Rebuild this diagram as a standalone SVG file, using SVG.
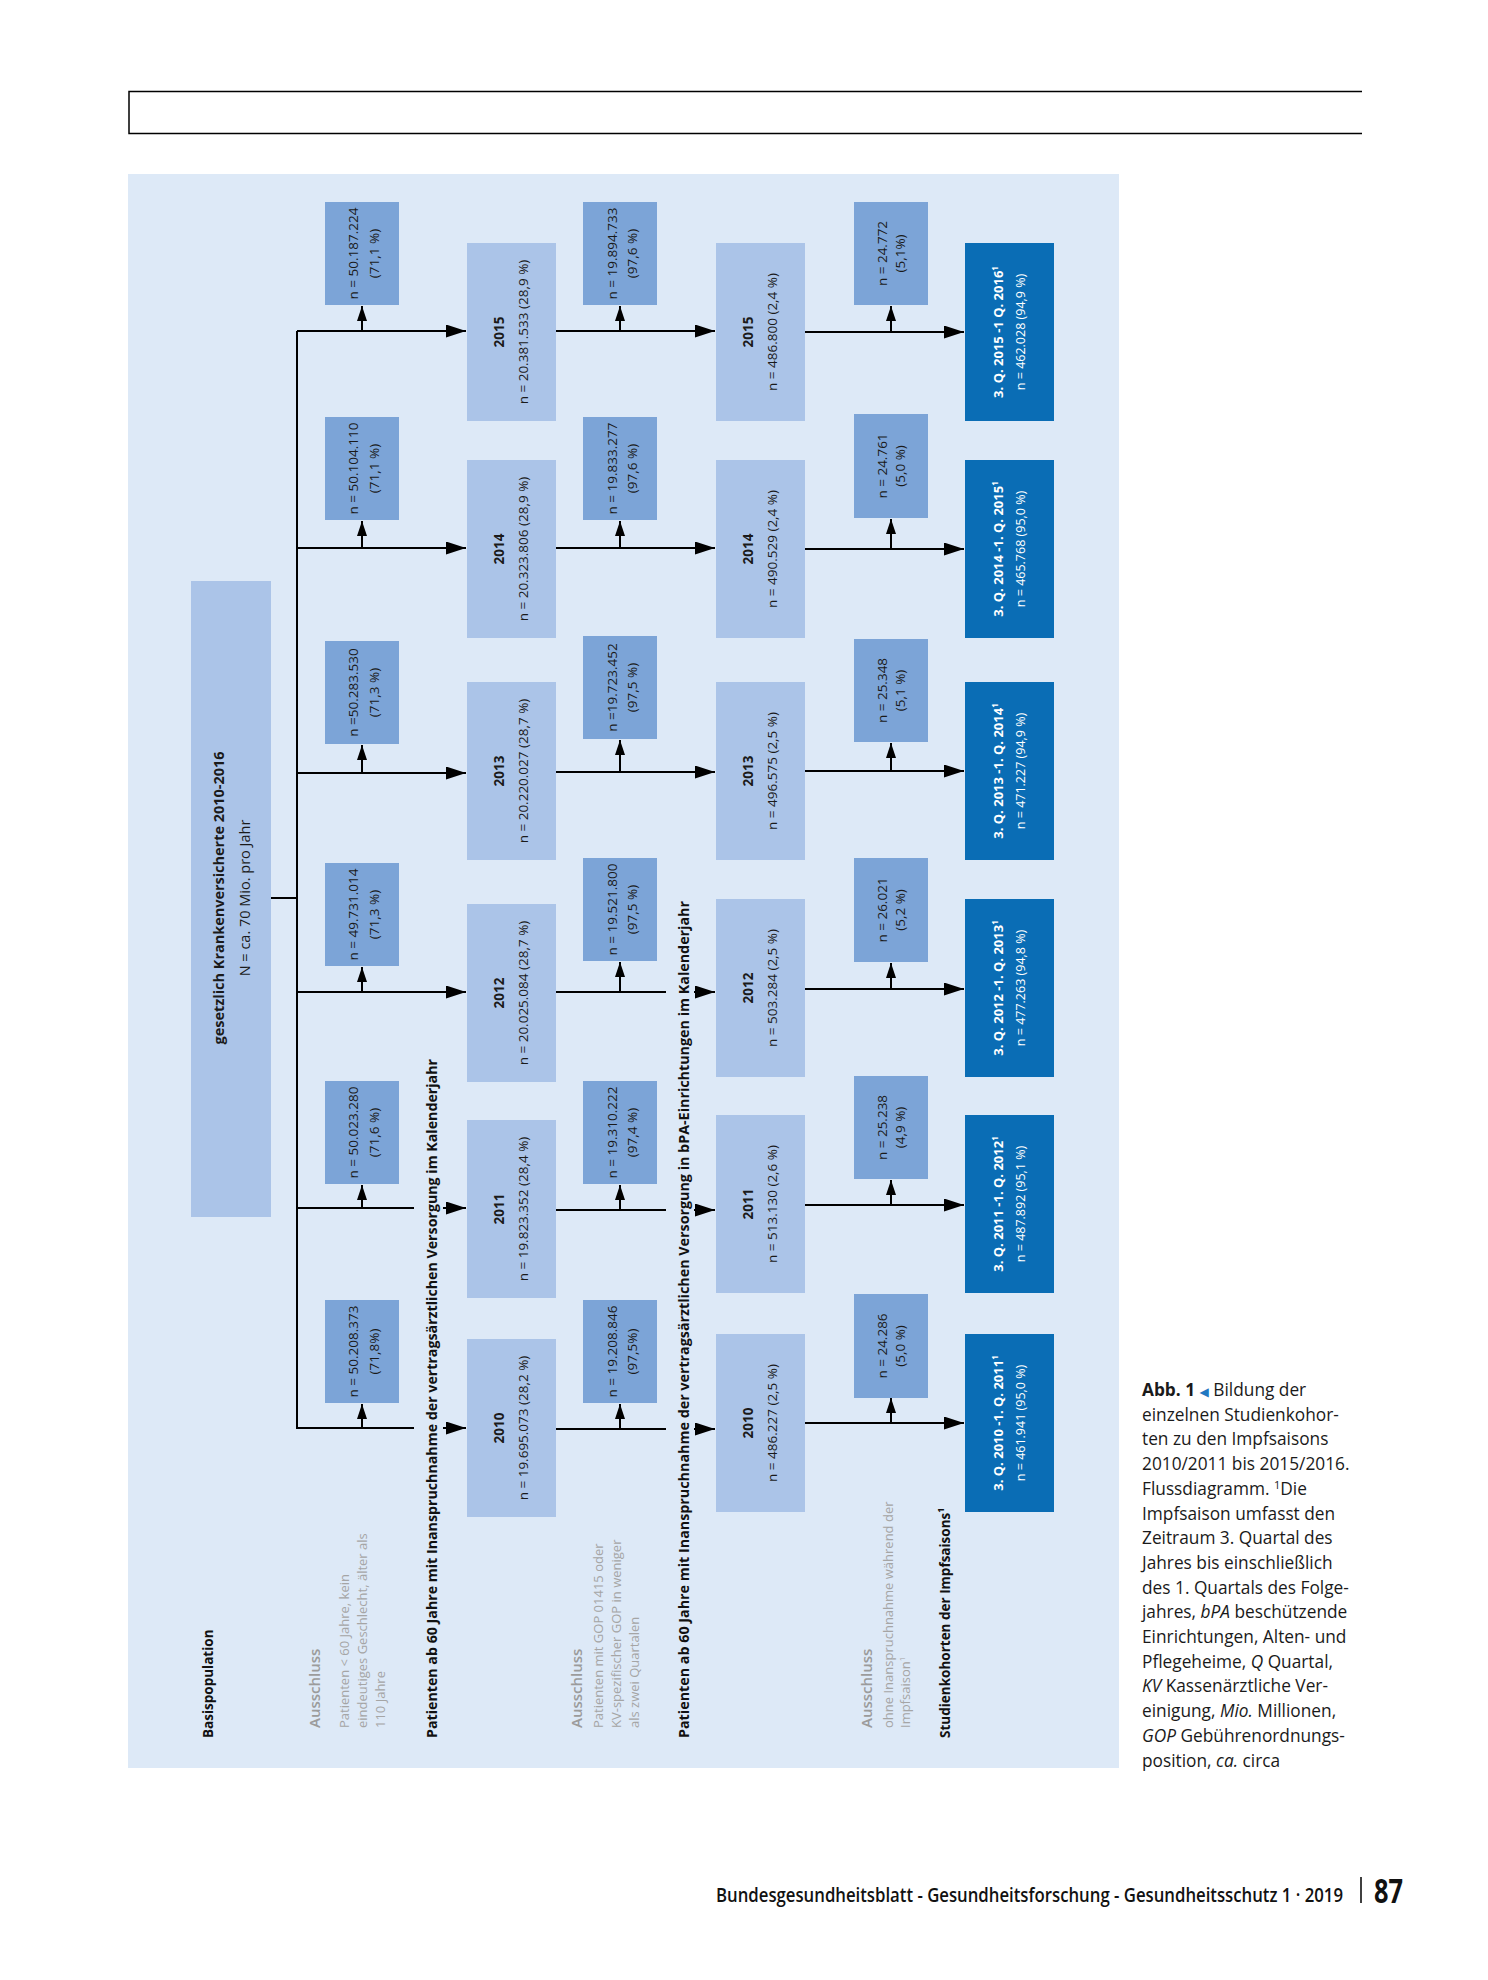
<svg xmlns="http://www.w3.org/2000/svg" width="1488" height="1980" viewBox="0 0 1488 1980">
<style>
text{font-family:"Open Sans","Liberation Sans",sans-serif}
.bg{fill:#dde9f7}
.st{fill:#abc4e8}
.ex{fill:#7ca4d7}
.fi{fill:#0a6db5}
.t{font-size:13.5px;fill:#1a1a1a;text-anchor:middle}
.tb{font-weight:700}
.fw{font-size:12.5px;fill:#ffffff;text-anchor:middle}
.fb{font-size:13px;font-weight:700;fill:#ffffff;text-anchor:middle}
.lbl{font-size:13.5px;font-weight:700;fill:#111111}
.aus{font-size:15px;font-weight:600;fill:#9b9b9b}
.desc{font-size:13px;fill:#a5a5a5}
.ln{stroke:#000;stroke-width:2;fill:none}
.cap{font-size:17.3px;fill:#1a1a1a}
</style>
<defs>
<marker id="ah" markerUnits="userSpaceOnUse" markerWidth="20" markerHeight="13" refX="20" refY="6.5" orient="auto"><path d="M0,0L20,6.5L0,13z" fill="#000"/></marker>
<marker id="au" markerUnits="userSpaceOnUse" markerWidth="15" markerHeight="10" refX="15" refY="5" orient="auto"><path d="M0,0L15,5L0,10z" fill="#000"/></marker>
</defs>

<rect width="1488" height="1980" fill="#ffffff"/>

<g id="header">
<path d="M1362,91.5H129V133.5H1362" fill="none" stroke="#000" stroke-width="1.5"/>
</g>

<rect id="panel" class="bg" x="128" y="174" width="991" height="1594"/>

<g id="row-labels">
<text class="lbl" transform="translate(213,1738) rotate(-90)">Basispopulation</text>
<text class="aus" transform="translate(320,1728) rotate(-90)">Ausschluss</text>
<text class="desc" transform="translate(349,1728) rotate(-90)">Patienten &lt; 60 Jahre, kein</text>
<text class="desc" transform="translate(367,1728) rotate(-90)">eindeutiges Geschlecht, älter als</text>
<text class="desc" transform="translate(385,1728) rotate(-90)">110 Jahre</text>
<text class="lbl" transform="translate(437,1738) rotate(-90)" textLength="679" lengthAdjust="spacingAndGlyphs">Patienten ab 60 Jahre mit Inanspruchnahme der vertragsärztlichen Versorgung im Kalenderjahr</text>
<text class="aus" transform="translate(582,1728) rotate(-90)">Ausschluss</text>
<text class="desc" transform="translate(603,1728) rotate(-90)">Patienten mit GOP 01415 oder</text>
<text class="desc" transform="translate(621,1728) rotate(-90)">KV-spezifischer GOP in weniger</text>
<text class="desc" transform="translate(639,1728) rotate(-90)">als  zwei Quartalen</text>
<text class="lbl" transform="translate(689,1738) rotate(-90)" textLength="837" lengthAdjust="spacingAndGlyphs">Patienten ab 60 Jahre mit Inanspruchnahme der vertragsärztlichen Versorgung in bPA-Einrichtungen im Kalenderjahr</text>
<text class="aus" transform="translate(872,1728) rotate(-90)">Ausschluss</text>
<text class="desc" transform="translate(893,1728) rotate(-90)">ohne Inanspruchnahme während der</text>
<text class="desc" transform="translate(910,1728) rotate(-90)">Impfsaison<tspan font-size="8" dy="-5">1</tspan></text>
<text class="lbl" transform="translate(950,1738) rotate(-90)">Studienkohorten der Impfsaisons<tspan font-size="9" dy="-6">1</tspan></text>
</g>

<g id="connectors">
<path class="ln" d="M271,898H297"/>
<path class="ln" d="M297,1428V331"/>
<path class="ln" d="M297,331H466" marker-end="url(#ah)"/>
<path class="ln" d="M297,548H466" marker-end="url(#ah)"/>
<path class="ln" d="M297,773H466" marker-end="url(#ah)"/>
<path class="ln" d="M297,992H466" marker-end="url(#ah)"/>
<path class="ln" d="M297,1208H414"/>
<path class="ln" d="M443,1208H466" marker-end="url(#ah)"/>
<path class="ln" d="M296,1428H414"/>
<path class="ln" d="M443,1428H466" marker-end="url(#ah)"/>
<path class="ln" d="M362,331V306" marker-end="url(#au)"/>
<path class="ln" d="M362,548V521" marker-end="url(#au)"/>
<path class="ln" d="M362,773V745" marker-end="url(#au)"/>
<path class="ln" d="M362,992V967" marker-end="url(#au)"/>
<path class="ln" d="M362,1208V1185" marker-end="url(#au)"/>
<path class="ln" d="M362,1428V1404" marker-end="url(#au)"/>

<path class="ln" d="M556,331H715" marker-end="url(#ah)"/>
<path class="ln" d="M556,548H715" marker-end="url(#ah)"/>
<path class="ln" d="M556,772H715" marker-end="url(#ah)"/>
<path class="ln" d="M556,992H666"/>
<path class="ln" d="M694,992H715" marker-end="url(#ah)"/>
<path class="ln" d="M556,1210H666"/>
<path class="ln" d="M694,1210H715" marker-end="url(#ah)"/>
<path class="ln" d="M556,1429H666"/>
<path class="ln" d="M694,1429H715" marker-end="url(#ah)"/>
<path class="ln" d="M620,331V306" marker-end="url(#au)"/>
<path class="ln" d="M620,548V521" marker-end="url(#au)"/>
<path class="ln" d="M620,772V740" marker-end="url(#au)"/>
<path class="ln" d="M620,992V962" marker-end="url(#au)"/>
<path class="ln" d="M620,1210V1185" marker-end="url(#au)"/>
<path class="ln" d="M620,1429V1404" marker-end="url(#au)"/>

<path class="ln" d="M805,332H964" marker-end="url(#ah)"/>
<path class="ln" d="M805,549H964" marker-end="url(#ah)"/>
<path class="ln" d="M805,771H964" marker-end="url(#ah)"/>
<path class="ln" d="M805,989H964" marker-end="url(#ah)"/>
<path class="ln" d="M805,1205H964" marker-end="url(#ah)"/>
<path class="ln" d="M805,1423H964" marker-end="url(#ah)"/>
<path class="ln" d="M891,332V306" marker-end="url(#au)"/>
<path class="ln" d="M891,549V519" marker-end="url(#au)"/>
<path class="ln" d="M891,771V743" marker-end="url(#au)"/>
<path class="ln" d="M891,989V963" marker-end="url(#au)"/>
<path class="ln" d="M891,1205V1180" marker-end="url(#au)"/>
<path class="ln" d="M891,1423V1398" marker-end="url(#au)"/>
</g>

<g id="basis">
<rect class="st" x="191" y="581" width="80" height="636"/>
<text class="t tb" transform="translate(224,898) rotate(-90)" textLength="293" lengthAdjust="spacingAndGlyphs">gesetzlich Krankenversicherte 2010-2016</text>
<text class="t" style="font-size:14.5px" transform="translate(250,898) rotate(-90)">N = ca. 70 Mio. pro Jahr</text>
</g>

<g id="ex1-2015"><rect class="ex" x="325" y="202" width="74" height="103"/><text class="t" transform="translate(358,253.5) rotate(-90)">n = 50.187.224</text><text class="t" transform="translate(379,253.5) rotate(-90)">(71,1 %)</text></g>
<g id="ex1-2014"><rect class="ex" x="325" y="417" width="74" height="103"/><text class="t" transform="translate(358,468.5) rotate(-90)">n = 50.104.110</text><text class="t" transform="translate(379,468.5) rotate(-90)">(71,1 %)</text></g>
<g id="ex1-2013"><rect class="ex" x="325" y="641" width="74" height="103"/><text class="t" transform="translate(358,692.5) rotate(-90)">n =50.283.530</text><text class="t" transform="translate(379,692.5) rotate(-90)">(71,3 %)</text></g>
<g id="ex1-2012"><rect class="ex" x="325" y="863" width="74" height="103"/><text class="t" transform="translate(358,914.5) rotate(-90)">n = 49.731.014</text><text class="t" transform="translate(379,914.5) rotate(-90)">(71,3 %)</text></g>
<g id="ex1-2011"><rect class="ex" x="325" y="1081" width="74" height="103"/><text class="t" transform="translate(358,1132.5) rotate(-90)">n = 50.023.280</text><text class="t" transform="translate(379,1132.5) rotate(-90)">(71,6 %)</text></g>
<g id="ex1-2010"><rect class="ex" x="325" y="1300" width="74" height="103"/><text class="t" transform="translate(358,1351.5) rotate(-90)">n = 50.208.373</text><text class="t" transform="translate(379,1351.5) rotate(-90)">(71,8%)</text></g>

<g id="s1-2015"><rect class="st" x="467" y="243" width="89" height="178"/><text class="t tb" transform="translate(504,332) rotate(-90)">2015</text><text class="t" transform="translate(528,332) rotate(-90)">n = 20.381.533 (28,9  %)</text></g>
<g id="s1-2014"><rect class="st" x="467" y="460" width="89" height="178"/><text class="t tb" transform="translate(504,549) rotate(-90)">2014</text><text class="t" transform="translate(528,549) rotate(-90)">n = 20.323.806 (28,9 %)</text></g>
<g id="s1-2013"><rect class="st" x="467" y="682" width="89" height="178"/><text class="t tb" transform="translate(504,771) rotate(-90)">2013</text><text class="t" transform="translate(528,771) rotate(-90)">n = 20.220.027 (28,7 %)</text></g>
<g id="s1-2012"><rect class="st" x="467" y="904" width="89" height="178"/><text class="t tb" transform="translate(504,993) rotate(-90)">2012</text><text class="t" transform="translate(528,993) rotate(-90)">n = 20.025.084 (28,7 %)</text></g>
<g id="s1-2011"><rect class="st" x="467" y="1120" width="89" height="178"/><text class="t tb" transform="translate(504,1209) rotate(-90)">2011</text><text class="t" transform="translate(528,1209) rotate(-90)">n = 19.823.352 (28,4 %)</text></g>
<g id="s1-2010"><rect class="st" x="467" y="1339" width="89" height="178"/><text class="t tb" transform="translate(504,1428) rotate(-90)">2010</text><text class="t" transform="translate(528,1428) rotate(-90)">n = 19.695.073 (28,2 %)</text></g>

<g id="ex2-2015"><rect class="ex" x="583" y="202" width="74" height="103"/><text class="t" transform="translate(617,253.5) rotate(-90)">n = 19.894.733</text><text class="t" transform="translate(637,253.5) rotate(-90)">(97,6 %)</text></g>
<g id="ex2-2014"><rect class="ex" x="583" y="417" width="74" height="103"/><text class="t" transform="translate(617,468.5) rotate(-90)">n = 19.833.277</text><text class="t" transform="translate(637,468.5) rotate(-90)">(97,6 %)</text></g>
<g id="ex2-2013"><rect class="ex" x="583" y="636" width="74" height="103"/><text class="t" transform="translate(617,687.5) rotate(-90)">n =19.723.452</text><text class="t" transform="translate(637,687.5) rotate(-90)">(97,5 %)</text></g>
<g id="ex2-2012"><rect class="ex" x="583" y="858" width="74" height="103"/><text class="t" transform="translate(617,909.5) rotate(-90)">n = 19.521.800</text><text class="t" transform="translate(637,909.5) rotate(-90)">(97,5 %)</text></g>
<g id="ex2-2011"><rect class="ex" x="583" y="1081" width="74" height="103"/><text class="t" transform="translate(617,1132.5) rotate(-90)">n = 19.310.222</text><text class="t" transform="translate(637,1132.5) rotate(-90)">(97,4 %)</text></g>
<g id="ex2-2010"><rect class="ex" x="583" y="1300" width="74" height="103"/><text class="t" transform="translate(617,1351.5) rotate(-90)">n = 19.208.846</text><text class="t" transform="translate(637,1351.5) rotate(-90)">(97,5%)</text></g>

<g id="s2-2015"><rect class="st" x="716" y="243" width="89" height="178"/><text class="t tb" transform="translate(753,332) rotate(-90)">2015</text><text class="t" transform="translate(777,332) rotate(-90)">n = 486.800 (2,4 %)</text></g>
<g id="s2-2014"><rect class="st" x="716" y="460" width="89" height="178"/><text class="t tb" transform="translate(753,549) rotate(-90)">2014</text><text class="t" transform="translate(777,549) rotate(-90)">n = 490.529 (2,4 %)</text></g>
<g id="s2-2013"><rect class="st" x="716" y="682" width="89" height="178"/><text class="t tb" transform="translate(753,771) rotate(-90)">2013</text><text class="t" transform="translate(777,771) rotate(-90)">n = 496.575 (2,5 %)</text></g>
<g id="s2-2012"><rect class="st" x="716" y="899" width="89" height="178"/><text class="t tb" transform="translate(753,988) rotate(-90)">2012</text><text class="t" transform="translate(777,988) rotate(-90)">n = 503.284 (2,5 %)</text></g>
<g id="s2-2011"><rect class="st" x="716" y="1115" width="89" height="178"/><text class="t tb" transform="translate(753,1204) rotate(-90)">2011</text><text class="t" transform="translate(777,1204) rotate(-90)">n = 513.130 (2,6 %)</text></g>
<g id="s2-2010"><rect class="st" x="716" y="1334" width="89" height="178"/><text class="t tb" transform="translate(753,1423) rotate(-90)">2010</text><text class="t" transform="translate(777,1423) rotate(-90)">n = 486.227 (2,5 %)</text></g>

<g id="ex3-2015"><rect class="ex" x="854" y="202" width="74" height="103"/><text class="t" transform="translate(887,253.5) rotate(-90)">n = 24.772</text><text class="t" transform="translate(905,253.5) rotate(-90)">(5,1%)</text></g>
<g id="ex3-2014"><rect class="ex" x="854" y="414" width="74" height="104"/><text class="t" transform="translate(887,466) rotate(-90)">n = 24.761</text><text class="t" transform="translate(905,466) rotate(-90)">(5,0 %)</text></g>
<g id="ex3-2013"><rect class="ex" x="854" y="639" width="74" height="103"/><text class="t" transform="translate(887,690.5) rotate(-90)">n = 25.348</text><text class="t" transform="translate(905,690.5) rotate(-90)">(5,1 %)</text></g>
<g id="ex3-2012"><rect class="ex" x="854" y="858" width="74" height="104"/><text class="t" transform="translate(887,910) rotate(-90)">n = 26.021</text><text class="t" transform="translate(905,910) rotate(-90)">(5,2 %)</text></g>
<g id="ex3-2011"><rect class="ex" x="854" y="1076" width="74" height="103"/><text class="t" transform="translate(887,1127.5) rotate(-90)">n = 25.238</text><text class="t" transform="translate(905,1127.5) rotate(-90)">(4,9 %)</text></g>
<g id="ex3-2010"><rect class="ex" x="854" y="1294" width="74" height="104"/><text class="t" transform="translate(887,1346) rotate(-90)">n = 24.286</text><text class="t" transform="translate(905,1346) rotate(-90)">(5,0 %)</text></g>

<g id="f-2015"><rect class="fi" x="965" y="243" width="89" height="178"/><text class="fb" transform="translate(1003,332) rotate(-90)">3. Q. 2015 -1 Q. 2016<tspan font-size="8" dy="-5">1</tspan></text><text class="fw" transform="translate(1024.5,332) rotate(-90)">n = 462.028 (94,9 %)</text></g>
<g id="f-2014"><rect class="fi" x="965" y="460" width="89" height="178"/><text class="fb" transform="translate(1003,549) rotate(-90)">3. Q. 2014 -1. Q. 2015<tspan font-size="8" dy="-5">1</tspan></text><text class="fw" transform="translate(1024.5,549) rotate(-90)">n = 465.768 (95,0 %)</text></g>
<g id="f-2013"><rect class="fi" x="965" y="682" width="89" height="178"/><text class="fb" transform="translate(1003,771) rotate(-90)">3. Q. 2013 -1. Q. 2014<tspan font-size="8" dy="-5">1</tspan></text><text class="fw" transform="translate(1024.5,771) rotate(-90)">n = 471.227 (94,9 %)</text></g>
<g id="f-2012"><rect class="fi" x="965" y="899" width="89" height="178"/><text class="fb" transform="translate(1003,988) rotate(-90)">3. Q. 2012 -1. Q. 2013<tspan font-size="8" dy="-5">1</tspan></text><text class="fw" transform="translate(1024.5,988) rotate(-90)">n = 477.263 (94,8 %)</text></g>
<g id="f-2011"><rect class="fi" x="965" y="1115" width="89" height="178"/><text class="fb" transform="translate(1003,1204) rotate(-90)">3. Q. 2011 -1. Q. 2012<tspan font-size="8" dy="-5">1</tspan></text><text class="fw" transform="translate(1024.5,1204) rotate(-90)">n = 487.892 (95,1 %)</text></g>
<g id="f-2010"><rect class="fi" x="965" y="1334" width="89" height="178"/><text class="fb" transform="translate(1003,1423) rotate(-90)">3. Q. 2010 -1. Q. 2011<tspan font-size="8" dy="-5">1</tspan></text><text class="fw" transform="translate(1024.5,1423) rotate(-90)">n = 461.941  (95,0 %)</text></g>

<g id="caption" class="cap">
<text x="1142" y="1396"><tspan font-weight="700">Abb. 1</tspan> <tspan fill="#1f78c1" font-size="12" font-family="DejaVu Sans">◀</tspan> Bildung der</text>
<text x="1142" y="1420.7">einzelnen Studienkohor-</text>
<text x="1142" y="1445.4">ten zu den Impfsaisons</text>
<text x="1142" y="1470.1">2010/2011 bis 2015/2016.</text>
<text x="1142" y="1494.8">Flussdiagramm. <tspan font-size="11" dy="-6">1</tspan><tspan dy="6">Die</tspan></text>
<text x="1142" y="1519.5">Impfsaison umfasst den</text>
<text x="1142" y="1544.2">Zeitraum 3. Quartal des</text>
<text x="1142" y="1568.9">Jahres bis einschließlich</text>
<text x="1142" y="1593.6">des 1. Quartals des Folge-</text>
<text x="1142" y="1618.3">jahres, <tspan font-style="italic">bPA</tspan> beschützende</text>
<text x="1142" y="1643">Einrichtungen, Alten- und</text>
<text x="1142" y="1667.7">Pflegeheime, <tspan font-style="italic">Q</tspan> Quartal,</text>
<text x="1142" y="1692.4"><tspan font-style="italic">KV</tspan> Kassenärztliche Ver-</text>
<text x="1142" y="1717.1">einigung, <tspan font-style="italic">Mio.</tspan> Millionen,</text>
<text x="1142" y="1741.8"><tspan font-style="italic">GOP</tspan> Gebührenordnungs-</text>
<text x="1142" y="1766.5">position, <tspan font-style="italic">ca.</tspan> circa</text>
</g>

<g id="footer">
<text transform="translate(716,1902) scale(1,1.22)" font-size="16" font-weight="600" fill="#111" textLength="627" lengthAdjust="spacingAndGlyphs">Bundesgesundheitsblatt - Gesundheitsforschung - Gesundheitsschutz 1 · 2019</text>
<path d="M1361,1877V1903" stroke="#000" stroke-width="1.5"/>
<text transform="translate(1374,1903) scale(1,1.3)" font-size="26" font-weight="700" fill="#111" textLength="29" lengthAdjust="spacingAndGlyphs">87</text>
</g>
</svg>
